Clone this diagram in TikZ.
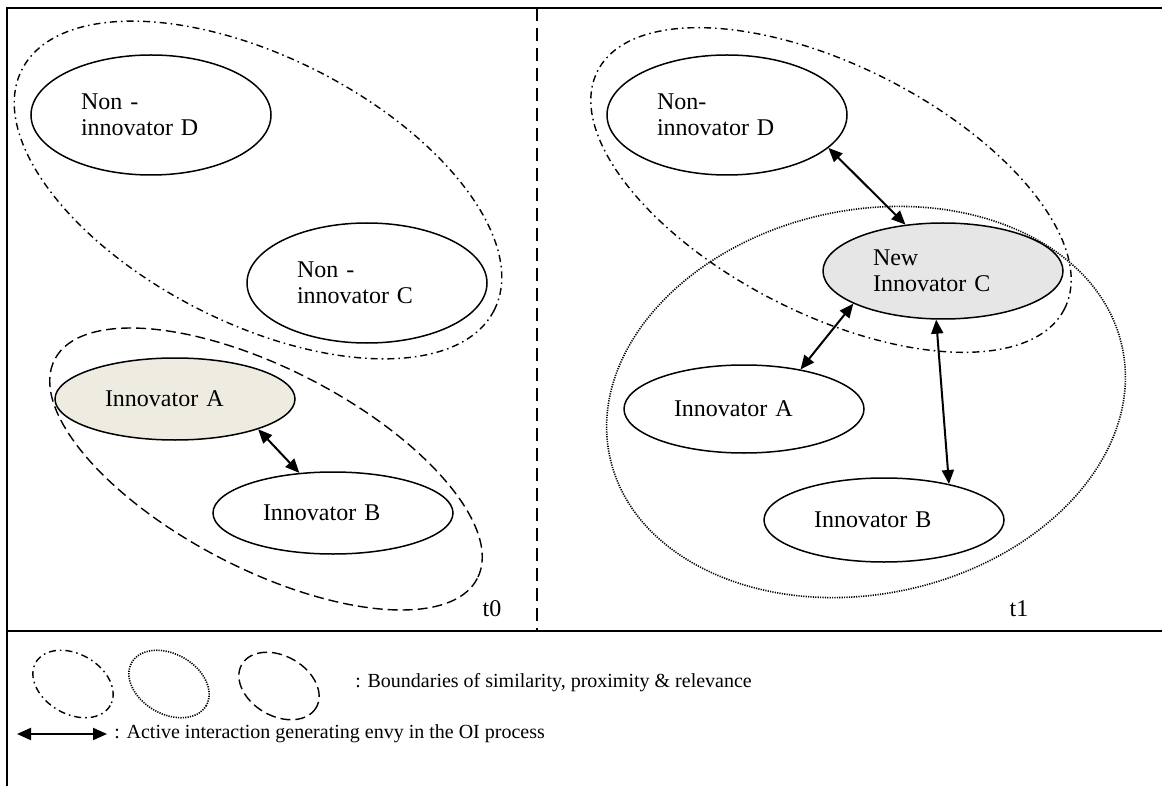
\documentclass[tikz,border=0pt]{standalone}
\usepackage{fontspec}
\setmainfont{Liberation Serif}
\usepackage{tikz}
\usetikzlibrary{shapes.geometric, arrows.meta, positioning, calc}

\definecolor{paleA}{HTML}{EEECE1}
\definecolor{paleC}{HTML}{E6E6E6}

\begin{document}
\begin{tikzpicture}[
  x=0.5pt, y=-0.5pt,
  >={Triangle[length=7pt, width=6pt]},
  firm/.style={draw, ellipse, line width=0.75pt, minimum width=120pt, inner sep=2pt, text width=70pt, align=left, font=\fontsize{12}{13}\selectfont},
  link/.style={<->, line width=1pt},
  simbound/.style={line width=0.7pt, dash pattern=on 3.5pt off 2pt on 0.8pt off 2pt},
  proxbound/.style={line width=0.8pt, dash pattern=on 0.6pt off 0.6pt},
  relbound/.style={line width=0.7pt, dash pattern=on 5pt off 2.5pt},
  divider/.style={line width=0.75pt, dash pattern=on 6.5pt off 3.5pt},
  stamp/.style={font=\fontsize{12}{13}\selectfont, inner sep=0pt},
  keytext/.style={anchor=west, font=\fontsize{10}{12}\selectfont, inner sep=0pt}
]
\useasboundingbox (0,0) rectangle (1162,786);

% frame
\draw[line width=1pt] (7,786) -- (7,8) -- (1162,8);
\draw[line width=1pt] (7,631) -- (1162,631);
\draw[divider] (537,8) -- (537,631);

% t0
\draw[simbound, shift={(258,190)}, rotate=-27] (0,0) ellipse [x radius=265, y radius=133];
\draw[relbound, shift={(266,469)}, rotate=-27.4] (0,0) ellipse [x radius=238, y radius=100];
\node[firm, minimum height=60pt]           (D0) at (151,115) {Non -\\innovator D};
\node[firm, minimum height=60pt]           (C0) at (367,283) {Non -\\innovator C};
\node[firm, minimum height=41pt, fill=paleA] (A0) at (175,399) {Innovator A};
\node[firm, minimum height=41pt]           (B0) at (333,513) {Innovator B};
\draw[link] (A0.-20) -- (B0.130);
\node[stamp] (T0) at (492,609) {t0};

% t1
\draw[simbound, shift={(831,190)}, rotate=-27] (0,0) ellipse [x radius=262, y radius=124];
\draw[proxbound, shift={(866,402)}, rotate=12] (0,0) ellipse [x radius=262, y radius=192];
\node[firm, minimum height=60pt]           (D1) at (727,115) {Non-\\innovator D};
\node[firm, minimum height=48pt, fill=paleC] (C1) at (943,271) {New\\Innovator C};
\node[firm, minimum height=44pt]           (A1) at (744,409) {Innovator A};
\node[firm, minimum height=42pt]           (B1) at (884,520) {Innovator B};
\draw[link] (D1.-18) -- (C1.129);
\draw[link] (C1.200) -- (A1.35);
\draw[link] (C1.262) -- (B1.29);
\node[stamp] (T1) at (1019,609) {t1};

% key
\draw[simbound, shift={(73,684)}, rotate=-30] (0,0) ellipse [x radius=43, y radius=30];
\draw[proxbound, shift={(169,684)}, rotate=-30] (0,0) ellipse [x radius=43, y radius=30];
\draw[relbound, shift={(279,686)}, rotate=-30] (0,0) ellipse [x radius=43, y radius=30];
\node[keytext] (Kbound) at (355,683) {: Boundaries of similarity, proximity \& relevance};
\coordinate (KL) at (17,734);
\coordinate (KR) at (107,734);
\draw[link] (KL) -- (KR);
\node[keytext] (Klink) at (114,734) {: Active interaction generating envy in the OI process};
\end{tikzpicture}
\end{document}
